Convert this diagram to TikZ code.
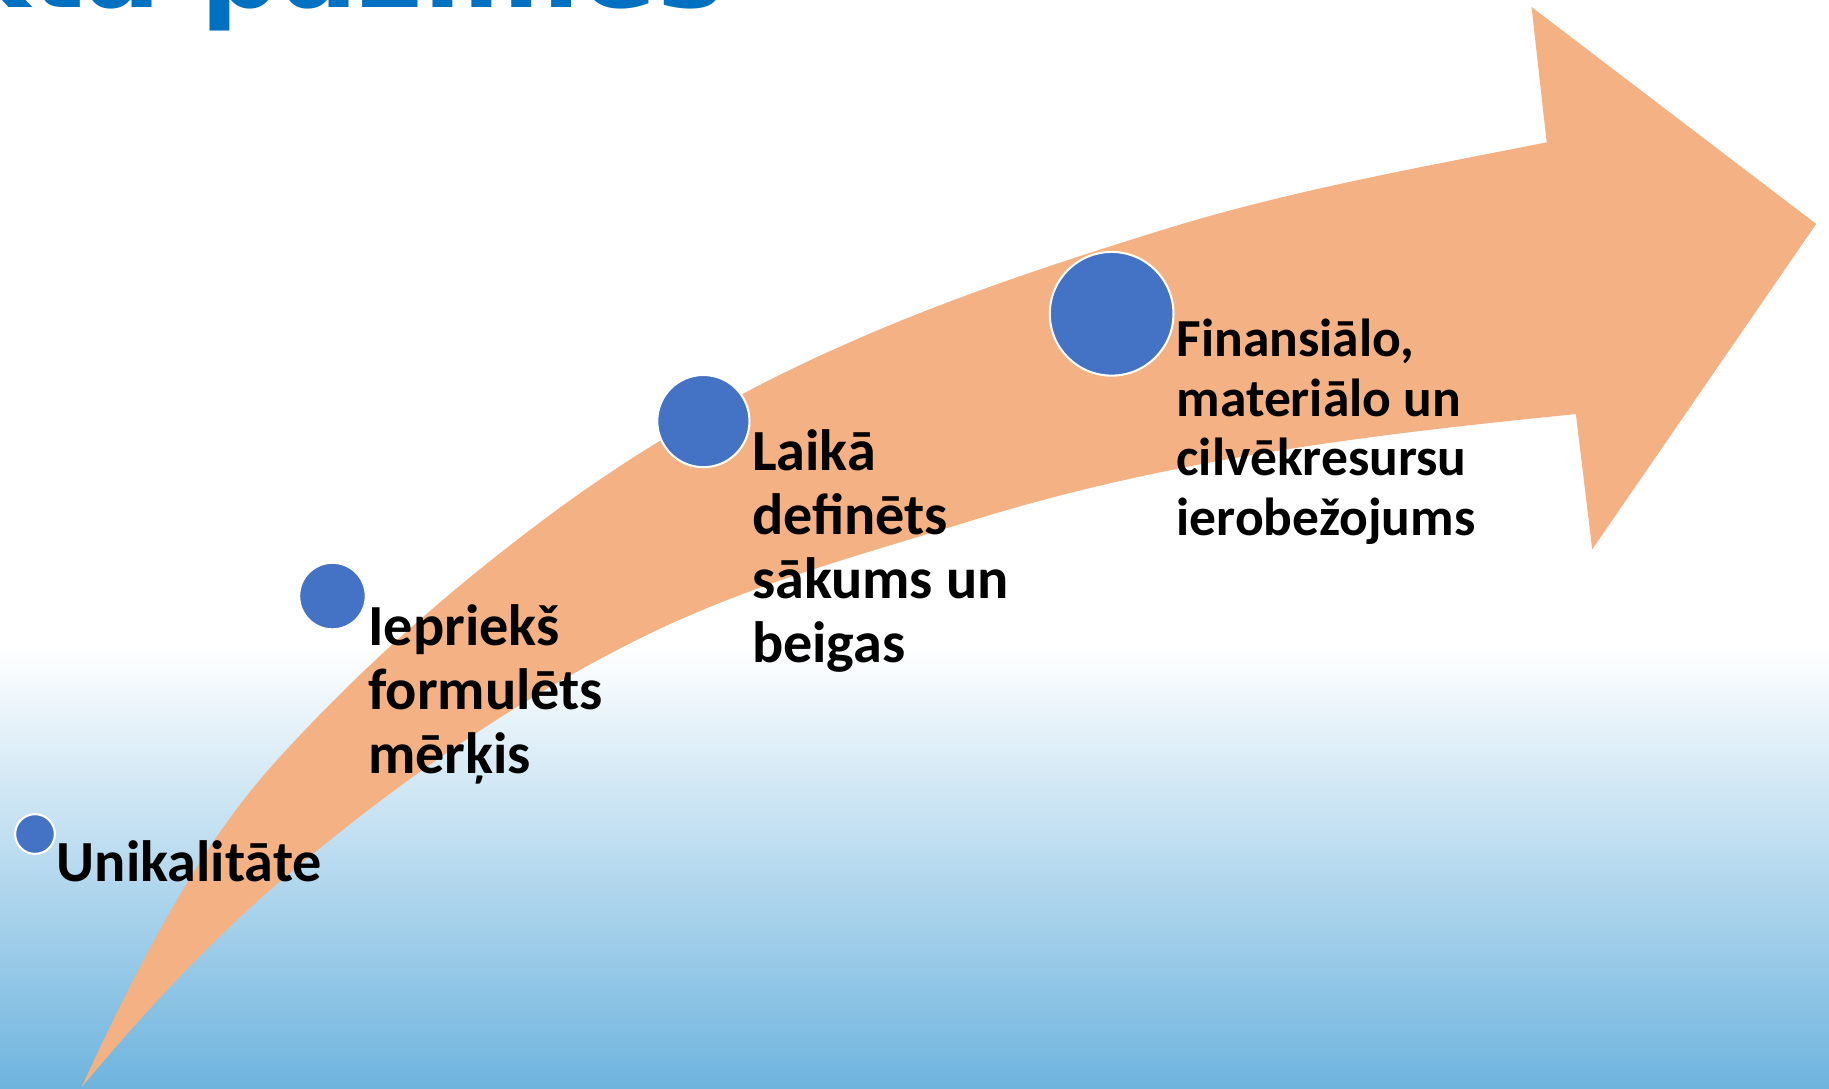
\documentclass[tikz,border=0pt]{standalone}
\usepackage{fontspec}
\setmainfont{Carlito}
\newfontfamily\titlefont{DejaVu Sans}
\definecolor{bgblue}{RGB}{110,180,222}
\definecolor{arrowfill}{RGB}{244,177,131}
\definecolor{dotblue}{RGB}{68,114,196}
\definecolor{titleblue}{RGB}{0,112,192}
\tikzset{
  dotnode/.style={circle, fill=dotblue, draw=white, line width=0.5pt, inner sep=0pt},
  lblbig/.style={inner sep=0pt, anchor=base west, text=black, font=\fontsize{14.2}{15.65}\selectfont\bfseries},
  lblsmall/.style={inner sep=0pt, anchor=base west, text=black, font=\fontsize{13.05}{14.5}\selectfont\bfseries},
}
\begin{document}
\begin{tikzpicture}[x=0.01cm,y=-0.01cm]
\useasboundingbox (0,0) rectangle (1568,933);
\fill[white] (0,0) rectangle (1568,556);
\shade[top color=white, bottom color=bgblue] (0,555) rectangle (1568,933);
% title (cut off by the frame)
\node[anchor=base east, inner sep=0pt, text=titleblue, font=\titlefont\bfseries\fontsize{27.6}{30}\selectfont] (title) at (622,6) {Projekta pazīmes};
% curved arrow
\fill[arrowfill] (70,932) .. controls (103,859.4) and (136,795.8) .. (169,743)
  .. controls (191.9,706.4) and (214.7,676.7) .. (237.6,651.5)
  .. controls (313.6,567.9) and (389.7,502.8) .. (465.7,445.8)
  .. controls (642.8,313) and (819.9,251.9) .. (997,197)
  .. controls (1106.7,163) and (1216.3,143.9) .. (1326,122)
  -- (1313,6) -- (1557,192) -- (1365,471) -- (1351,355)
  .. controls (1178.7,372.2) and (1006.3,392.6) .. (834,446)
  .. controls (738,475.8) and (642,500.6) .. (546,548.6)
  .. controls (444.5,599.3) and (343,668.1) .. (241.5,754.4)
  .. controls (184.3,803.0) and (127.2,863.4) .. (70,932) -- cycle;
% dots
\node[dotnode, minimum size=0.34cm] (c1) at (30,715) {};
\node[dotnode, minimum size=0.57cm] (c2) at (285,511) {};
\node[dotnode, minimum size=0.79cm] (c3) at (603,361) {};
\node[dotnode, minimum size=1.06cm] (c4) at (953,269) {};
% labels
\node[lblbig] (t1) at (48,756) {Unikalitāte};
\node[lblbig] (t2) at (315,553) {\vtop{\hbox{Iepriekš}\hbox{formulēts}\hbox{mērķis}}};
\node[lblbig] (t3) at (644,403) {\vtop{\hbox{Laikā}\hbox{definēts}\hbox{sākums un}\hbox{beigas}}};
\node[lblsmall] (t4) at (1008,306) {\vtop{\hbox{Finansiālo,}\hbox{materiālo un}\hbox{cilvēkresursu}\hbox{ierobežojums}}};
\end{tikzpicture}
\end{document}
